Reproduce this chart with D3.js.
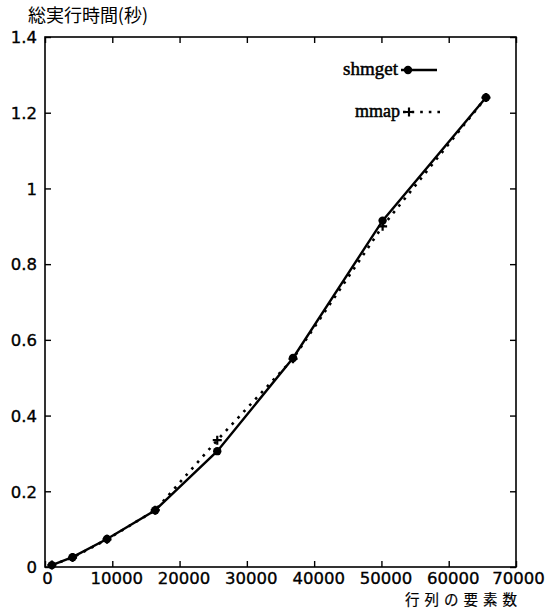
<!DOCTYPE html>
<html><head><meta charset="utf-8">
<script src="https://cdn.jsdelivr.net/npm/d3@7"></script>
<style>body{margin:0;background:#fff}svg{display:block}</style>
</head><body>
<script>
const sizes = [1024, 4096, 9216, 16384, 25600, 36864, 50176, 65536];
const shmget = [0.005, 0.026, 0.074, 0.15, 0.306, 0.552, 0.915, 1.24];
const mmap = [0.005, 0.025, 0.073, 0.15, 0.335, 0.55, 0.90, 1.24];
const xTicks = [0, 10000, 20000, 30000, 40000, 50000, 60000, 70000];
const yTicks = [0, 0.2, 0.4, 0.6, 0.8, 1, 1.2, 1.4];
const seriesNames = ["shmget", "mmap"];
const yTitle = "総実行時間(秒)";
const xTitle = "行列の要素数";

const W = 555, H = 609;
const svg = d3.select("body").append("svg").attr("width", W).attr("height", H);
const L = 45, R = 516, T = 37, B = 567;
const x = d3.scaleLinear().domain([0, 70000]).range([L, R]);
const y = d3.scaleLinear().domain([0, 1.4]).range([B, T]);
const sans = "'DejaVu Sans', sans-serif";
const serif = "'Liberation Serif', 'Times New Roman', serif";
const cjk = "'Noto Sans CJK JP', sans-serif";

// frame
svg.append("rect").attr("x", L).attr("y", T).attr("width", R - L).attr("height", B - T)
  .attr("fill", "none").attr("stroke", "#000").attr("stroke-width", 1.6);

const tk = 6;
const gx = svg.append("g").attr("transform", `translate(0,${B})`)
  .call(d3.axisBottom(x).tickValues(xTicks).tickSize(-tk).tickPadding(5).tickFormat(d3.format("d")));
const gxt = svg.append("g").attr("transform", `translate(0,${T})`)
  .call(d3.axisTop(x).tickValues(xTicks).tickSize(-tk).tickFormat(""));
const gy = svg.append("g").attr("transform", `translate(${L},0)`)
  .call(d3.axisLeft(y).tickValues(yTicks).tickSize(-tk).tickPadding(8).tickFormat(d => String(d)));
const gyr = svg.append("g").attr("transform", `translate(${R},0)`)
  .call(d3.axisRight(y).tickValues(yTicks).tickSize(-tk).tickFormat(""));
[gx, gxt, gy, gyr].forEach(g => {
  g.select(".domain").remove();
  g.selectAll(".tick line").attr("stroke", "#000").attr("stroke-width", 1.4);
  g.selectAll("text").attr("fill", "#000").attr("stroke", "#000").attr("stroke-width", 0.35)
    .style("font-family", sans).style("font-size", "16.5px");
});
gx.selectAll(".tick text").attr("dx", d => (d === 0 || d === 70000) ? 2 : 4);
gy.selectAll(".tick text").attr("dy", "0.35em");

// titles
svg.append("text").attr("x", 28).attr("y", 22).text(yTitle)
  .attr("textLength", 120).attr("lengthAdjust", "spacing")
  .style("font-family", cjk).style("font-size", "18px").attr("fill", "#000");
svg.append("text").attr("x", 405).attr("y", 604.6).text(xTitle)
  .attr("textLength", 112).attr("lengthAdjust", "spacing")
  .style("font-family", cjk).style("font-size", "14.5px").attr("fill", "#000")
  .attr("stroke", "#000").attr("stroke-width", 0.2);

const line = d3.line().x((d, i) => x(sizes[i])).y(d => y(d));

// mmap dotted
svg.append("path").datum(mmap).attr("d", line).attr("fill", "none").attr("stroke", "#000")
  .attr("stroke-width", 2.6).attr("stroke-dasharray", "2.6,6");
// shmget solid
svg.append("path").datum(shmget).attr("d", line).attr("fill", "none").attr("stroke", "#000")
  .attr("stroke-width", 2.4);

function plus(g, cx, cy) {
  g.append("path").attr("d", `M${cx - 4.5},${cy}H${cx + 4.5}M${cx},${cy - 4.5}V${cy + 4.5}`)
    .attr("stroke", "#000").attr("stroke-width", 2.2);
}
function dot(g, cx, cy) {
  g.append("circle").attr("cx", cx).attr("cy", cy).attr("r", 4.2).attr("fill", "#000");
}
const mk = svg.append("g");
mmap.forEach((v, i) => plus(mk, x(sizes[i]), y(v)));
shmget.forEach((v, i) => dot(mk, x(sizes[i]), y(v)));

// legend
const lg = svg.append("g");
lg.append("text").attr("x", 398).attr("y", 75).attr("text-anchor", "end").text(seriesNames[0])
  .style("font-family", serif).style("font-size", "19px").attr("fill", "#000")
  .attr("stroke", "#000").attr("stroke-width", 0.5);
lg.append("line").attr("x1", 401).attr("x2", 437).attr("y1", 70).attr("y2", 70)
  .attr("stroke", "#000").attr("stroke-width", 2.4);
dot(lg, 408, 70);
lg.append("text").attr("x", 400).attr("y", 117).attr("text-anchor", "end").text(seriesNames[1])
  .style("font-family", serif).style("font-size", "18px").attr("fill", "#000")
  .attr("stroke", "#000").attr("stroke-width", 0.5);
lg.append("line").attr("x1", 403).attr("x2", 440).attr("y1", 112).attr("y2", 112)
  .attr("stroke", "#000").attr("stroke-width", 2.6).attr("stroke-dasharray", "2.6,6");
plus(lg, 409, 112);
</script>
</body></html>
